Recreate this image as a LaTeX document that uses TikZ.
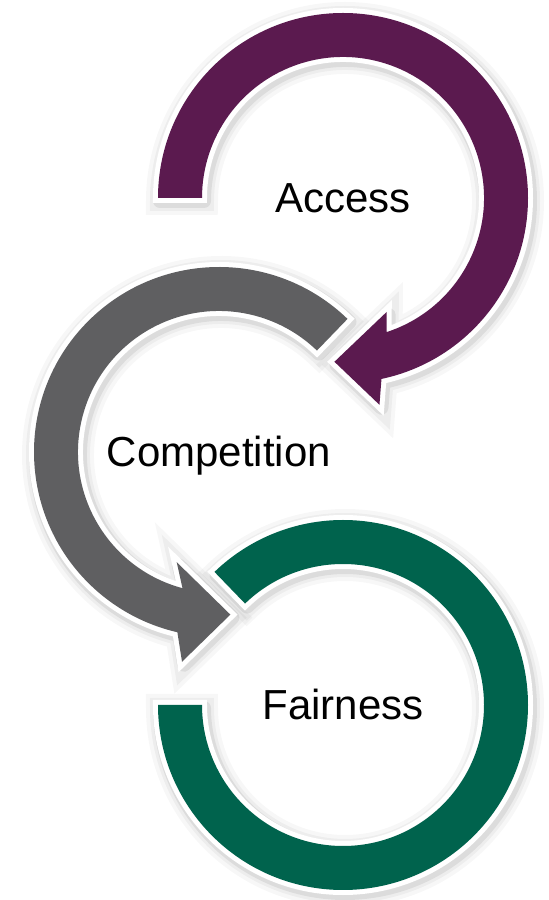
\documentclass[tikz,border=0pt]{standalone}
\usepackage{fontspec}
\setmainfont{Liberation Sans}
\usetikzlibrary{calc}

\definecolor{accessPurple}{HTML}{5B1A4F}
\definecolor{compGray}{HTML}{5F5F61}
\definecolor{fairGreen}{HTML}{00634D}

% ring outlines round (0,0), moved to their centre when drawn
\newcommand{\accessring}{(180:185) arc[start angle=180, end angle=-78, radius=185]
   -- (-80:210) -- (-93:164) -- (-69:122) -- (-72:141)
   arc[start angle=-72, end angle=180, radius=141] -- cycle}
\newcommand{\competitionring}{(46:185) arc[start angle=46, end angle=257, radius=185]
   -- (260:213) -- (274:163) -- (249:118) -- (255:141)
   arc[start angle=255, end angle=46, radius=141] -- cycle}
\newcommand{\fairnessring}{(180:185) arc[start angle=180, end angle=494, radius=185]
   -- (494:141) arc[start angle=494, end angle=180, radius=141] -- cycle}

\begin{document}
\begin{tikzpicture}[x=1pt, y=1pt,
   ring/.style = {fill=#1, line join=round,
      preaction={draw=white, line width=10pt}},
   soft shadow/.style = {line join=round, draw=black, draw opacity=.07, line width=14pt,
      preaction={draw=black, draw opacity=.04, line width=20pt},
      preaction={draw=black, draw opacity=.03, line width=28pt}},
   word/.style = {font=\fontsize{42}{50}\selectfont, anchor=base, inner sep=0pt}]
   \useasboundingbox (0,0) rectangle (549,900);

   \coordinate (acc)  at (343,702);
   \coordinate (comp) at (219,448);
   \coordinate (fair) at (343,195);

   % shadows first, so no ring darkens its neighbour
   \foreach \ctr/\shp in {acc/\accessring, comp/\competitionring, fair/\fairnessring}
     \path[soft shadow, shift={(\ctr)}, xshift=2pt, yshift=-3pt] \shp;

   \path[ring=accessPurple, shift={(acc)}] \accessring;
   \path[ring=compGray, shift={(comp)}] \competitionring;
   \path[ring=fairGreen, shift={(fair)}] \fairnessring;

   \node[word] (access)      at ([yshift=-15pt]acc)  {Access};
   \node[word] (competition) at ([yshift=-15pt]comp) {Competition};
   \node[word] (fairness)    at ([yshift=-15pt]fair) {Fairness};
\end{tikzpicture}
\end{document}
